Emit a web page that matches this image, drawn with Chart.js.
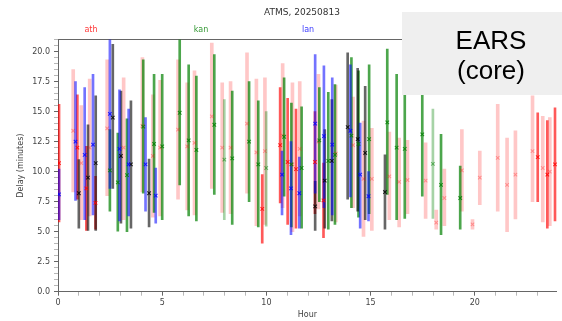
<!DOCTYPE html>
<html><head><meta charset="utf-8">
<script src="https://cdn.jsdelivr.net/npm/chart.js@4/dist/chart.umd.min.js"></script>
<style>html,body{margin:0;padding:0;background:#fff;overflow:hidden}#wrap{width:562px;height:321px;position:relative}</style>
</head><body><div id="wrap"><canvas id="c" width="562" height="321"></canvas></div>
<script>
const titleText = 'ATMS, 20250813';
const seriesNames = ['ath', 'kan', 'lan'];
const boxLines = ['EARS', '(core)'];
const xTickLabels = ['0', '5', '10', '15', '20'];
const yTickLabels = ['0.0', '2.5', '5.0', '7.5', '10.0', '12.5', '15.0', '17.5', '20.0'];
const xTitle = 'Hour';
const yTitle = 'Delay (minutes)';

// ath (solid red)
const athHour = [0.05, 0.93, 1.36, 1.80, 9.80, 10.66, 11.02, 11.42, 12.33, 12.74, 23.02, 23.48, 23.85];
const athMid  = [10.7, 12.0, 8.6, 7.4, 6.9, 12.2, 10.8, 10.2, 10.8, 7.6, 11.2, 9.75, 10.6];
const athLow  = [5.8, 7.7, 5.1, 5.2, 4.05, 7.4, 5.6, 5.3, 6.5, 4.5, 7.5, 5.3, 5.9];
const athHigh = [15.6, 16.4, 12.1, 9.6, 9.75, 17.0, 16.1, 15.2, 15.0, 10.7, 14.9, 14.25, 15.3];

// ath (faint red)
const athFHour = [0.73, 1.12, 1.52, 2.36, 3.15, 4.05, 4.55, 4.90, 5.76, 6.20, 6.55, 7.38, 7.88, 8.28, 9.07, 9.52, 9.93, 10.78, 11.25, 11.60, 12.50, 13.33, 14.16, 14.66, 15.06, 15.90, 16.37, 16.77, 17.64, 18.15, 18.54, 19.38, 19.89, 20.24, 21.10, 21.55, 21.95, 22.77, 23.26, 23.60];
const athFMid  = [13.4, 10.7, 12.0, 13.6, 12.0, 13.8, 11.3, 12.0, 13.5, 12.1, 12.4, 14.6, 12.0, 12.0, 14.0, 11.6, 11.7, 13.0, 10.6, 11.9, 12.5, 11.5, 12.2, 9.4, 9.4, 9.6, 9.15, 9.3, 9.25, 5.75, 7.8, 10.1, 5.6, 9.5, 11.15, 8.9, 9.75, 11.7, 10.3, 10.0];
const athFLow  = [8.3, 6.0, 6.3, 8.0, 6.0, 8.3, 6.2, 6.3, 7.7, 6.8, 6.4, 8.6, 6.6, 6.5, 8.2, 5.5, 5.6, 7.0, 5.0, 6.3, 6.9, 5.8, 7.0, 4.6, 5.1, 6.0, 5.4, 6.5, 6.1, 5.2, 5.5, 6.7, 5.2, 7.25, 6.7, 5.0, 6.05, 7.5, 5.8, 5.5];
const athFHigh = [18.5, 15.5, 17.7, 19.3, 17.8, 19.5, 16.4, 17.6, 19.3, 17.4, 18.4, 20.7, 17.4, 17.5, 19.9, 17.7, 17.8, 19.0, 17.4, 17.5, 18.1, 17.2, 16.2, 14.2, 13.6, 13.3, 12.8, 12.6, 12.4, 6.8, 10.2, 13.5, 6.0, 11.7, 15.6, 12.8, 13.4, 16.3, 14.6, 14.5];

// kan (green)
const kanHour = [2.49, 2.87, 3.31, 4.09, 4.61, 5.00, 5.84, 6.27, 6.64, 7.50, 8.36, 9.17, 9.61, 10.85, 11.20, 11.69, 12.54, 12.97, 13.29, 14.08, 14.42, 14.93, 15.80, 16.25, 16.64, 17.48, 18.38, 19.30];
const kanMid  = [10.1, 9.1, 9.7, 13.75, 12.3, 12.1, 14.9, 12.6, 11.8, 13.9, 11.1, 12.5, 10.6, 12.9, 10.6, 10.3, 12.6, 10.9, 11.4, 13.0, 12.3, 12.7, 14.1, 12.0, 11.9, 13.1, 8.9, 7.8];
const kanLow  = [6.7, 5.05, 5.0, 8.2, 6.6, 6.0, 8.9, 6.3, 5.9, 8.1, 5.6, 7.5, 5.4, 7.95, 5.4, 5.3, 7.5, 5.2, 5.6, 7.0, 6.2, 6.5, 8.1, 6.0, 6.1, 7.95, 4.75, 5.2];
const kanHigh = [13.5, 13.2, 14.4, 19.3, 18.1, 18.1, 21.0, 18.9, 17.95, 19.75, 16.7, 17.5, 15.9, 17.8, 15.7, 15.4, 17.0, 16.6, 17.25, 19.5, 18.4, 18.9, 20.2, 18.1, 16.4, 18.2, 13.1, 10.45];

// kan (faint green)
const kanFHour = [7.98, 9.99, 17.99];
const kanFMid  = [11.0, 10.3, 10.65];
const kanFLow  = [6.0, 5.45, 6.1];
const kanFHigh = [16.0, 15.0, 15.2];

// lan (blue)
const lanHour = [0.05, 0.84, 1.28, 1.68, 2.49, 2.95, 3.39, 4.20, 4.69, 10.75, 11.18, 11.58, 12.34, 12.76, 13.16, 14.03, 14.50, 14.90];
const lanMid  = [8.1, 12.5, 11.4, 12.25, 14.8, 11.9, 10.6, 10.6, 8.0, 9.75, 8.6, 8.2, 14.0, 12.95, 12.25, 13.4, 9.75, 7.95];
const lanLow  = [6.0, 7.6, 6.0, 6.4, 8.6, 5.9, 6.3, 6.7, 5.7, 6.4, 4.75, 5.3, 8.2, 7.0, 6.4, 7.9, 5.3, 5.9];
const lanHigh = [10.2, 17.5, 17.0, 18.1, 21.0, 16.8, 15.2, 14.5, 10.3, 11.7, 12.5, 11.2, 19.75, 18.8, 17.8, 18.9, 14.05, 10.0];

// unlabelled (black)
const othHour = [1.00, 1.44, 1.81, 2.63, 3.02, 3.50, 4.37, 12.34, 12.80, 13.14, 13.90, 14.38, 14.74, 15.69];
const othMid  = [8.2, 9.5, 10.7, 14.5, 11.3, 10.6, 8.2, 7.1, 9.25, 10.9, 13.7, 12.7, 11.55, 8.3];
const othLow  = [5.3, 5.1, 5.1, 8.6, 5.7, 5.3, 5.4, 5.1, 5.3, 5.9, 7.7, 6.7, 6.0, 5.2];
const othHigh = [11.0, 13.9, 16.3, 20.6, 16.7, 15.9, 11.05, 9.2, 13.5, 16.0, 19.9, 18.6, 17.1, 11.4];

function barSet(label, hours, lows, highs, color, thick, order) {
  return {
    type: 'bar', label: label,
    data: hours.map((h, i) => ({x: h, y: [lows[i], highs[i]]})),
    backgroundColor: color, borderWidth: 0, barThickness: thick,
    grouped: false, order: order
  };
}
function markSet(label, hours, mids, color, order) {
  return {
    type: 'scatter', label: label,
    data: hours.map((h, i) => ({x: h, y: mids[i]})),
    pointStyle: 'crossRot', pointRadius: 2.5, pointBorderWidth: 1.1,
    borderColor: color, backgroundColor: color, showLine: false, order: order
  };
}

const datasets = [
  markSet('lan', lanHour, lanMid, 'rgba(0,0,255,0.8)', 0),
  markSet('other', othHour, othMid, 'rgba(0,0,0,0.8)', 0),
  markSet('ath', athHour, athMid, 'rgba(255,0,0,0.8)', 0),
  markSet('kan', kanHour, kanMid, 'rgba(0,128,0,0.8)', 0),
  markSet('kan faint', kanFHour, kanFMid, 'rgba(0,128,0,0.5)', 1),
  markSet('ath faint', athFHour, athFMid, 'rgba(255,0,0,0.3)', 1),
  barSet('lan', lanHour, lanLow, lanHigh, 'rgba(0,0,255,0.55)', 2, 2),
  barSet('other', othHour, othLow, othHigh, 'rgba(0,0,0,0.6)', 2, 2),
  barSet('ath', athHour, athLow, athHigh, 'rgba(255,0,0,0.65)', 2, 3),
  barSet('kan', kanHour, kanLow, kanHigh, 'rgba(0,128,0,0.7)', 2, 3),
  barSet('kan faint', kanFHour, kanFLow, kanFHigh, 'rgba(0,128,0,0.35)', 2, 4),
  barSet('ath faint', athFHour, athFLow, athFHigh, 'rgba(255,0,0,0.22)', 3, 4)
];

const axisColor = '#666';
const tickFont = {family: '"DejaVu Sans"', size: 8};

const annotations = {
  id: 'annotations',
  afterDraw(chart) {
    const ctx = chart.ctx;
    ctx.save();
    ctx.textAlign = 'center';
    ctx.textBaseline = 'middle';
    ctx.font = '9px "DejaVu Sans"';
    ctx.fillStyle = '#333';
    ctx.fillText(titleText, 302, 13);
    const cols = ['rgba(255,0,0,0.8)', 'rgba(0,128,0,0.8)', 'rgba(0,0,255,0.8)'];
    const xs = [91, 201, 308];
    ctx.font = '8px "DejaVu Sans"';
    seriesNames.forEach((n, i) => { ctx.fillStyle = cols[i]; ctx.fillText(n, xs[i], 30); });
    ctx.fillStyle = '#efefef';
    ctx.fillRect(402, 12, 160, 83);
    ctx.fillStyle = '#000';
    ctx.font = '26px "Liberation Sans"';
    ctx.textBaseline = 'alphabetic';
    ctx.fillText(boxLines[0], 491, 49);
    ctx.fillText(boxLines[1], 491, 79);
    ctx.restore();
  }
};

new Chart(document.getElementById('c'), {
  type: 'bar',
  data: {datasets: datasets},
  plugins: [annotations],
  options: {
    responsive: false, animation: false, devicePixelRatio: 1,
    layout: {padding: 0},
    plugins: {legend: {display: false}, title: {display: false}, tooltip: {enabled: false}},
    scales: {
      x: {
        type: 'linear', position: 'bottom', min: 0, max: 23.94, offset: false,
        afterFit: s => { s.height = 29.3; },
        ticks: {stepSize: 1, includeBounds: false, autoSkip: false, maxRotation: 0, padding: 2,
          color: '#444', font: tickFont,
          callback: v => xTickLabels.includes(String(v)) ? String(v) : ''},
        grid: {offset: false, drawOnChartArea: false, drawTicks: true, tickLength: 4,
          tickColor: c => (c.tick && c.tick.label) ? axisColor : '#999',
          tickWidth: c => (c.tick && c.tick.label) ? 1 : 0.7},
        border: {display: true, color: axisColor, width: 1},
        title: {display: true, text: xTitle, color: '#444', font: tickFont, padding: {top: 0, bottom: 1.7}}
      },
      xTop: {
        type: 'linear', position: 'top', min: 0, max: 23.94, offset: false,
        afterFit: s => { s.height = 39.5; },
        ticks: {display: false},
        grid: {drawOnChartArea: false, drawTicks: false},
        border: {display: true, color: axisColor, width: 1}
      },
      y: {
        type: 'linear', position: 'left', min: 0, max: 21,
        afterFit: s => { s.width = 58; },
        ticks: {stepSize: 0.5, includeBounds: false, autoSkip: false, padding: 4,
          color: '#444', font: tickFont,
          callback: v => yTickLabels.includes(Number(v).toFixed(1)) ? Number(v).toFixed(1) : ''},
        grid: {drawOnChartArea: false, drawTicks: true, tickLength: 4,
          tickColor: c => (c.tick && c.tick.label) ? axisColor : '#999',
          tickWidth: c => (c.tick && c.tick.label) ? 1 : 0.7},
        border: {display: true, color: axisColor, width: 1},
        title: {display: true, text: yTitle, color: '#444', font: tickFont, padding: {top: 16.2, bottom: 0}}
      }
    }
  }
});
</script></body></html>
